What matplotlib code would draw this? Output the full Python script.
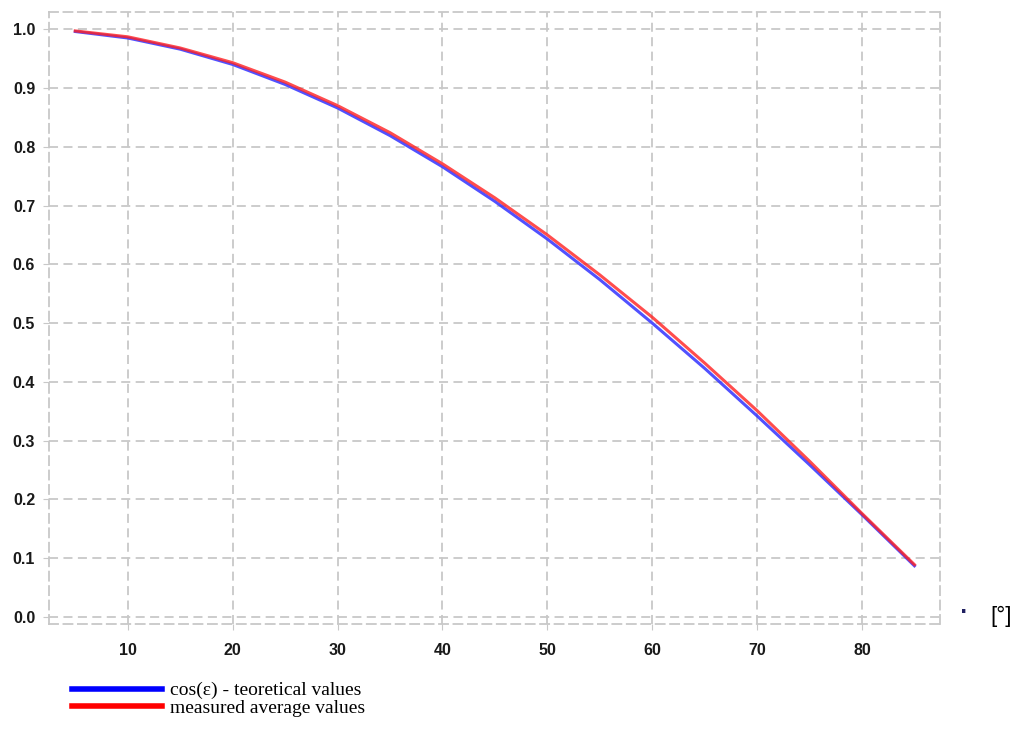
import numpy as np
import matplotlib.pyplot as plt

# angle of incidence [deg]
angle = [5, 10, 15, 20, 25, 30, 35, 40, 45, 50, 55, 60, 65, 70, 75, 80, 85]
# cos(eps) theoretical values
theory = [0.996, 0.985, 0.966, 0.940, 0.906, 0.866, 0.819, 0.766, 0.707,
          0.643, 0.574, 0.500, 0.423, 0.342, 0.259, 0.174, 0.087]
# measured average values
measured = [0.997, 0.987, 0.968, 0.943, 0.910, 0.870, 0.824, 0.771, 0.713,
            0.650, 0.582, 0.510, 0.432, 0.351, 0.265, 0.176, 0.089]

xticks = [10, 20, 30, 40, 50, 60, 70, 80]
yticks = [0.0, 0.1, 0.2, 0.3, 0.4, 0.5, 0.6, 0.7, 0.8, 0.9, 1.0]

fig = plt.figure(figsize=(10.26, 7.39), dpi=100)
ax = fig.add_axes([0.0478, 0.1556, 0.868, 0.828])

l1, = ax.plot(angle, theory, color='#3333ff', lw=2.2, alpha=0.85)
l2, = ax.plot(angle, measured, color='#ff2020', lw=2.2, alpha=0.8)

ax.set_xlim(2.5, 87.4)
ax.set_ylim(-0.012, 1.029)
ax.set_xticks(xticks)
ax.set_yticks(yticks)
ax.set_yticklabels(['%.1f' % v for v in yticks])
ax.grid(True, color='#c8c8c8', ls=(0, (5, 3)), lw=1.3)
for s in ax.spines.values():
    s.set_color('#c8c8c8')
    s.set_linestyle((0, (5, 3)))
    s.set_linewidth(1.3)
ax.tick_params(length=4, color='#c8c8c8', labelsize=11.5, pad=6)
ax.tick_params(axis='x', pad=10)
for lab in ax.get_xticklabels() + ax.get_yticklabels():
    lab.set_fontweight('bold')
    lab.set_family('Liberation Sans')
    lab.set_color('#1a1a1a')

fig.text(0.936, 0.171, '.', fontsize=14, fontweight='bold', color='#202060')
fig.text(0.965, 0.158, '[°]', fontsize=16, family='Liberation Sans')

fig.legend([l1, l2], ['cos(ε) - teoretical values', 'measured average values'],
           loc='upper left', bbox_to_anchor=(0.063, 0.088), frameon=False,
           prop={'family': 'Liberation Serif', 'size': 14},
           handlelength=4.6, handletextpad=0.4, labelspacing=0.0,
           borderaxespad=0)
for h, c in zip(fig.legends[0].legend_handles, ['#0000ff', '#ff0000']):
    h.set_color(c)
    h.set_alpha(1)
    h.set_linewidth(4)

fig.savefig('out.png', dpi=100)
